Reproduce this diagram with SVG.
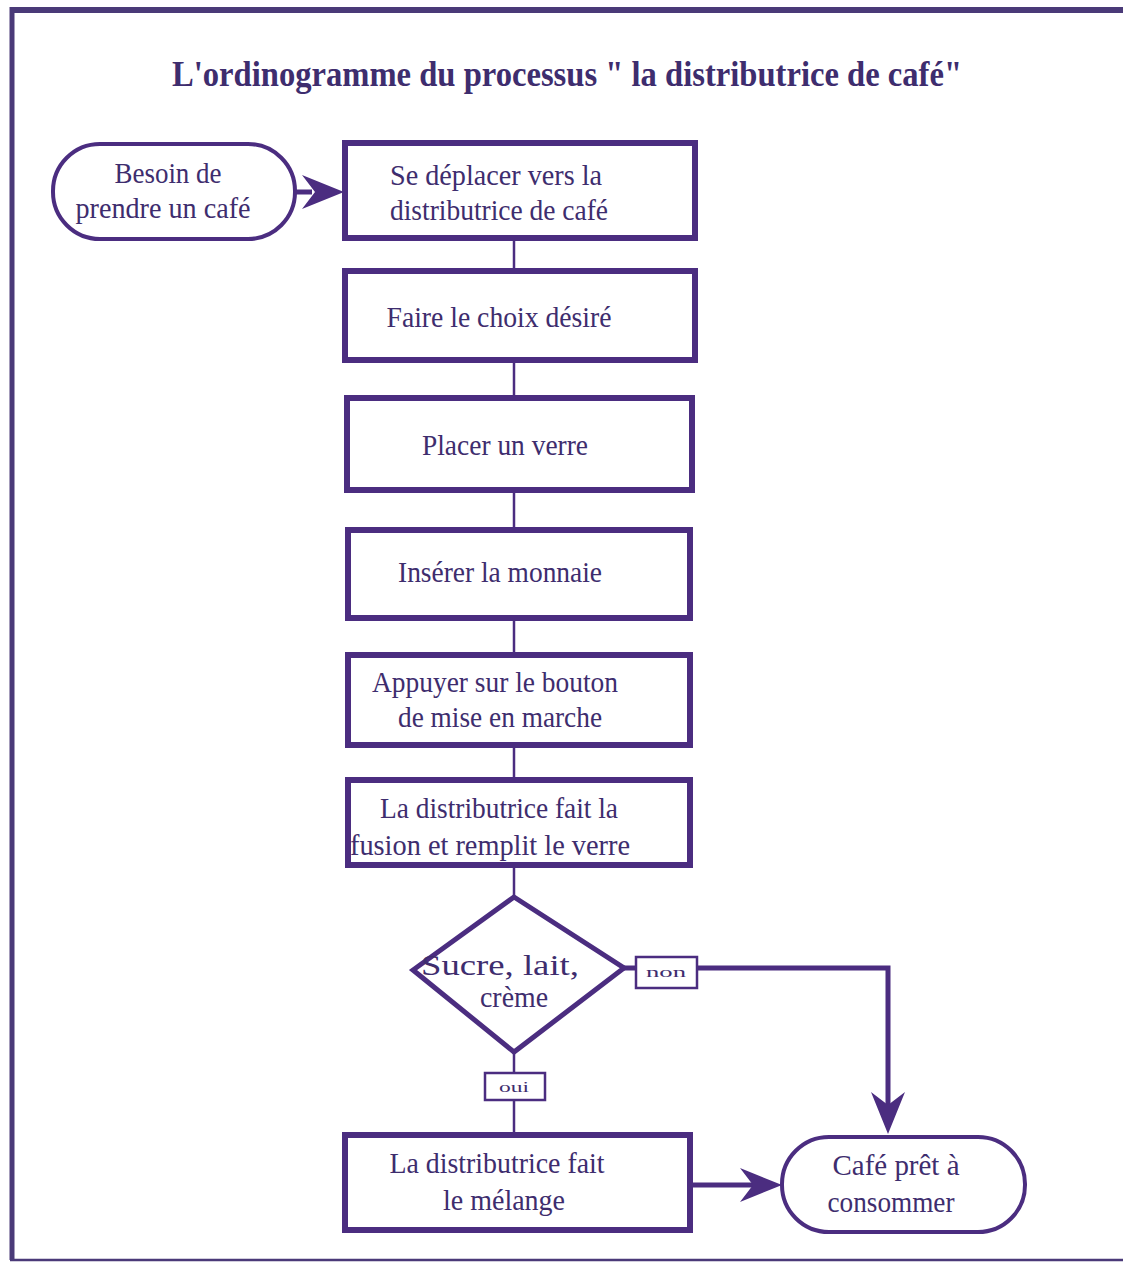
<svg xmlns="http://www.w3.org/2000/svg" width="1123" height="1263" viewBox="0 0 1123 1263">
  <style>
    .frame { fill: none; stroke: #4a3a78; }
    .proc { fill: #ffffff; stroke: #4b2d80; stroke-width: 6; }
    .term { fill: #ffffff; stroke: #4b2d80; stroke-width: 4; }
    .dec { fill: #ffffff; stroke: #4b2d80; stroke-width: 5; stroke-linejoin: miter; }
    .tag { fill: #ffffff; stroke: #4b2d80; stroke-width: 2.5; }
    .thin { fill: none; stroke: #4b2d80; stroke-width: 2.5; }
    .thick { fill: none; stroke: #4b2d80; stroke-width: 5; }
    .head { fill: #4b2d80; }
    text { font-family: "Liberation Serif", "DejaVu Serif", serif; fill: #3e2d6e; text-anchor: middle; }
    .t { font-size: 30px; }
    .title { font-size: 36px; font-weight: bold; }
    .small { font-size: 14px; }
  </style>
  <defs>
    <!-- barbed arrowhead pointing right, tip at origin -->
    <path id="barb" d="M0 0 L-42 -17 L-29 0 L-42 17 Z"/>
  </defs>

  <!-- page frame -->
  <g id="frame">
    <line class="frame" x1="12" y1="10" x2="1123" y2="10" stroke-width="6"/>
    <line class="frame" x1="12" y1="7" x2="12" y2="1260" stroke-width="5"/>
    <line class="frame" x1="10" y1="1260" x2="1123" y2="1260" stroke-width="2.5"/>
  </g>

  <text id="title" class="title" x="567" y="86" textLength="790" lengthAdjust="spacingAndGlyphs">L'ordinogramme du processus " la distributrice de café"</text>

  <!-- connectors -->
  <g id="connectors">
    <line class="thick" x1="295" y1="192" x2="312" y2="192"/>
    <use href="#barb" class="head" transform="translate(344,192)"/>
    <line class="thin" x1="514" y1="238" x2="514" y2="271"/>
    <line class="thin" x1="514" y1="360" x2="514" y2="398"/>
    <line class="thin" x1="514" y1="490" x2="514" y2="530"/>
    <line class="thin" x1="514" y1="618" x2="514" y2="655"/>
    <line class="thin" x1="514" y1="745" x2="514" y2="780"/>
    <line class="thin" x1="514" y1="865" x2="514" y2="897"/>
    <line class="thin" x1="514" y1="1052" x2="514" y2="1072"/>
    <line class="thin" x1="514" y1="1100" x2="514" y2="1135"/>
    <line class="thick" x1="624" y1="968" x2="636" y2="968"/>
    <polyline class="thick" points="697,968 888,968 888,1105"/>
    <use href="#barb" class="head" transform="translate(888,1134) rotate(90)"/>
    <line class="thick" x1="690" y1="1185" x2="755" y2="1185"/>
    <use href="#barb" class="head" transform="translate(782,1185)"/>
    <rect class="tag" x="636" y="957" width="61" height="31"/>
    <text class="small" x="666" y="977" textLength="40" lengthAdjust="spacingAndGlyphs">non</text>
    <rect class="tag" x="485" y="1073" width="60" height="27"/>
    <text class="small" x="514" y="1092" textLength="30" lengthAdjust="spacingAndGlyphs">oui</text>
  </g>

  <g id="start">
    <rect class="term" x="53" y="144" width="242" height="95" rx="47" ry="47"/>
    <text class="t" x="168" y="183" textLength="107" lengthAdjust="spacingAndGlyphs">Besoin de</text>
    <text class="t" x="163" y="218" textLength="175" lengthAdjust="spacingAndGlyphs">prendre  un café</text>
  </g>

  <g id="step1">
    <rect class="proc" x="345" y="143" width="350" height="95"/>
    <text class="t" x="496" y="185" textLength="212" lengthAdjust="spacingAndGlyphs">Se déplacer vers la</text>
    <text class="t" x="499" y="220" textLength="218" lengthAdjust="spacingAndGlyphs">distributrice de café</text>
  </g>

  <g id="step2">
    <rect class="proc" x="345" y="271" width="350" height="89"/>
    <text class="t" x="499" y="327" textLength="225" lengthAdjust="spacingAndGlyphs">Faire le choix désiré</text>
  </g>

  <g id="step3">
    <rect class="proc" x="347" y="398" width="345" height="92"/>
    <text class="t" x="505" y="455" textLength="166" lengthAdjust="spacingAndGlyphs">Placer un verre</text>
  </g>

  <g id="step4">
    <rect class="proc" x="348" y="530" width="342" height="88"/>
    <text class="t" x="500" y="582" textLength="204" lengthAdjust="spacingAndGlyphs">Insérer la monnaie</text>
  </g>

  <g id="step5">
    <rect class="proc" x="348" y="655" width="342" height="90"/>
    <text class="t" x="495" y="692" textLength="246" lengthAdjust="spacingAndGlyphs">Appuyer sur le bouton</text>
    <text class="t" x="500" y="727" textLength="204" lengthAdjust="spacingAndGlyphs">de mise en marche</text>
  </g>

  <g id="step6">
    <rect class="proc" x="348" y="780" width="342" height="85"/>
    <text class="t" x="499" y="818" textLength="238" lengthAdjust="spacingAndGlyphs">La distributrice fait la</text>
    <text class="t" x="490" y="855" textLength="280" lengthAdjust="spacingAndGlyphs">fusion et remplit le verre</text>
  </g>

  <g id="decision">
    <polygon class="dec" points="514,897 624,968 514,1052 413,970"/>
    <text class="t" x="500" y="975" textLength="158" lengthAdjust="spacingAndGlyphs">Sucre, lait,</text>
    <text class="t" x="514" y="1007" textLength="68" lengthAdjust="spacingAndGlyphs">crème</text>
  </g>

  <g id="step7">
    <rect class="proc" x="345" y="1135" width="345" height="95"/>
    <text class="t" x="497" y="1173" textLength="215" lengthAdjust="spacingAndGlyphs">La distributrice fait</text>
    <text class="t" x="504" y="1210" textLength="122" lengthAdjust="spacingAndGlyphs">le mélange</text>
  </g>

  <g id="end">
    <rect class="term" x="782" y="1137" width="243" height="95" rx="47" ry="47"/>
    <text class="t" x="896" y="1175" textLength="127" lengthAdjust="spacingAndGlyphs">Café prêt à</text>
    <text class="t" x="891" y="1212" textLength="127" lengthAdjust="spacingAndGlyphs">consommer</text>
  </g>
</svg>
